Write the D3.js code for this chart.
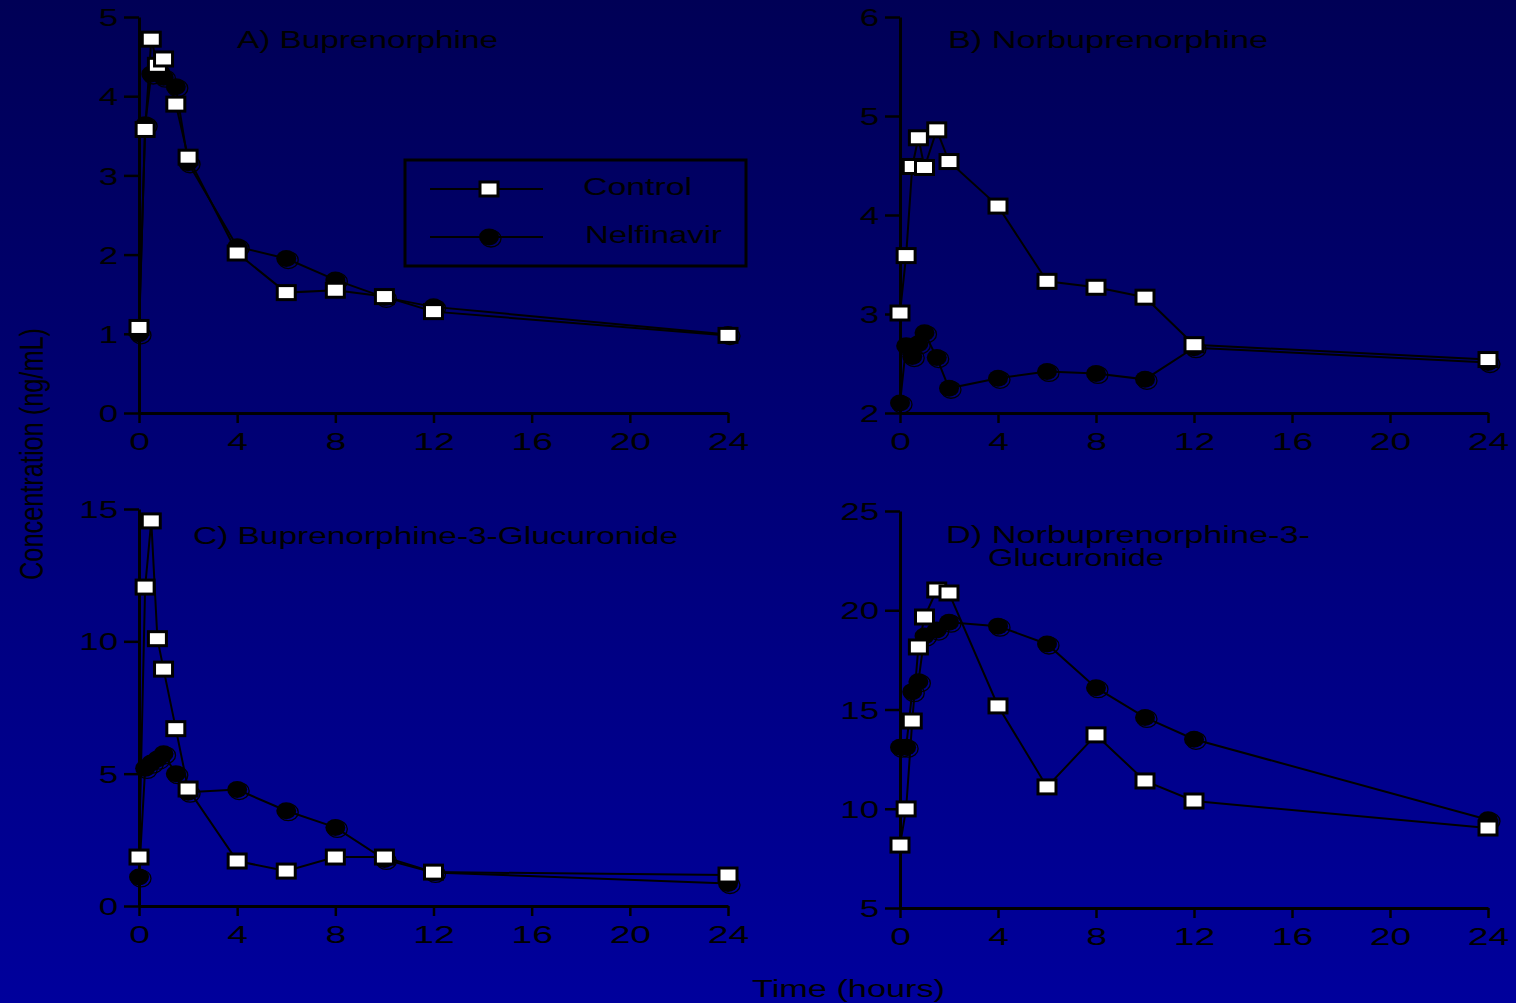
<!DOCTYPE html>
<html>
<head>
<meta charset="utf-8">
<script src="https://cdn.jsdelivr.net/npm/d3@7"></script>
<style>
  html, body { margin: 0; padding: 0; background: #000070; }
  svg { display: block; }
  text { font-family: "Liberation Sans", Arial, Helvetica, sans-serif; fill: #000; }
</style>
</head>
<body>
<svg id="chart" width="1516" height="1003"></svg>
<script>
// Sampling times (hours)
const times = [0, 0.25, 0.5, 0.75, 1, 1.5, 2, 4, 6, 8, 10, 12, 24];
const xTicks = [0, 4, 8, 12, 16, 20, 24];
const seriesNames = ["Control", "Nelfinavir"];

// Mean concentrations (ng/mL) for each analyte
const bupControl   = [1.08, 3.58, 4.72, 4.39, 4.47, 3.90, 3.23, 2.02, 1.52, 1.55, 1.47, 1.28, 0.98];
const bupNelf      = [1.00, 3.64, 4.28, 4.32, 4.24, 4.12, 3.16, 2.10, 1.95, 1.68, 1.46, 1.34, 0.99];
const norControl   = [3.01, 3.59, 4.49, 4.78, 4.48, 4.86, 4.54, 4.09, 3.33, 3.27, 3.17, 2.69, 2.54];
const norNelf      = [2.10, 2.68, 2.57, 2.70, 2.81, 2.56, 2.25, 2.35, 2.42, 2.40, 2.34, 2.66, 2.51];
const b3gControl   = [1.85, 12.05, 14.55, 10.10, 8.95, 6.70, 4.42, 1.70, 1.32, 1.85, 1.85, 1.28, 1.17];
const b3gNelf      = [1.10, 5.20, 5.40, 5.55, 5.75, 5.00, 4.30, 4.40, 3.60, 2.97, 1.76, 1.27, 0.85];
const n3gControl   = [8.17, 9.99, 14.42, 18.15, 19.66, 21.02, 20.87, 15.18, 11.10, 13.72, 11.40, 10.39, 9.03];
const n3gNelf      = [13.10, 13.10, 15.90, 16.40, 18.70, 19.00, 19.40, 19.20, 18.30, 16.10, 14.60, 13.50, 9.45];

// Panel titles and y tick values
const titlesA = ["A) Buprenorphine"];
const titlesB = ["B) Norbuprenorphine"];
const titlesC = ["C) Buprenorphine-3-Glucuronide"];
const titlesD = ["D) Norbuprenorphine-3-", "Glucuronide"];
const yTicksA = [0, 1, 2, 3, 4, 5];
const yTicksB = [2, 3, 4, 5, 6];
const yTicksC = [0, 5, 10, 15];
const yTicksD = [5, 10, 15, 20, 25];

const svg = d3.select("#chart");

// Background gradient
const defs = svg.append("defs");
const grad = defs.append("linearGradient").attr("id", "bg")
  .attr("x1", 0).attr("y1", 0).attr("x2", 0).attr("y2", 1);
grad.append("stop").attr("offset", "0%").attr("stop-color", "#000056");
grad.append("stop").attr("offset", "100%").attr("stop-color", "#00009c");
svg.append("rect").attr("width", 1516).attr("height", 1003).attr("fill", "url(#bg)");

// Stretch text horizontally by a factor
function stretch(sel, k) {
  sel.each(function () {
    const w = this.getComputedTextLength();
    d3.select(this).attr("textLength", w * k).attr("lengthAdjust", "spacingAndGlyphs");
  });
}
// Wide text set to a fixed run length
function wideText(parent, x, y, size, len, str) {
  return parent.append("text").attr("x", x).attr("y", y).attr("font-size", size)
    .attr("textLength", len).attr("lengthAdjust", "spacingAndGlyphs").text(str);
}

const panels = [
  { ctrl: bupControl, nelf: bupNelf, yDom: [0, 5],  yTicks: yTicksA, xr: [139, 728], yr: [413, 17],
    titles: titlesA, tx: [237], ty: [48], tw: [261] },
  { ctrl: norControl, nelf: norNelf, yDom: [2, 6],  yTicks: yTicksB, xr: [900, 1488], yr: [413, 17],
    titles: titlesB, tx: [948], ty: [48], tw: [320] },
  { ctrl: b3gControl, nelf: b3gNelf, yDom: [0, 15], yTicks: yTicksC, xr: [139, 728], yr: [906, 509],
    titles: titlesC, tx: [193], ty: [544], tw: [485] },
  { ctrl: n3gControl, nelf: n3gNelf, yDom: [5, 25], yTicks: yTicksD, xr: [900, 1488], yr: [908, 511],
    titles: titlesD, tx: [946, 988], ty: [543, 566], tw: [364, 176] }
];

function drawSquare(g, cx, cy) {
  g.append("rect")
    .attr("x", cx - 9).attr("y", cy - 7)
    .attr("width", 18).attr("height", 14)
    .attr("fill", "#fff").attr("stroke", "#000").attr("stroke-width", 3);
}
function drawDot(g, cx, cy) {
  g.append("ellipse").attr("cx", cx).attr("cy", cy).attr("rx", 10).attr("ry", 8.5)
    .attr("fill", "#000");
  g.append("ellipse").attr("cx", cx + 2).attr("cy", cy + 1.5).attr("rx", 10).attr("ry", 8.5)
    .attr("fill", "none").attr("stroke", "#000").attr("stroke-width", 1.3);
}

panels.forEach(p => {
  const x = d3.scaleLinear().domain([0, 24]).range(p.xr);
  const y = d3.scaleLinear().domain(p.yDom).range(p.yr);
  const g = svg.append("g");

  // y axis
  const ya = g.append("g").attr("transform", `translate(${p.xr[0]},0)`)
    .call(d3.axisLeft(y).tickValues(p.yTicks).tickSize(15).tickSizeOuter(0).tickPadding(6)
      .tickFormat(d3.format("d")));
  ya.select(".domain").attr("stroke", "#000").attr("stroke-width", 3);
  ya.selectAll(".tick line").attr("stroke", "#000").attr("stroke-width", 2.5);
  ya.selectAll(".tick text").attr("font-size", 24).attr("fill", "#000")
    .attr("font-family", "Liberation Sans, Arial, sans-serif").attr("dy", "0.36em");
  stretch(ya.selectAll(".tick text"), 1.45);

  // x axis
  const xa = g.append("g").attr("transform", `translate(0,${p.yr[0]})`)
    .call(d3.axisBottom(x).tickValues(xTicks).tickSize(10).tickSizeOuter(0).tickPadding(10));
  xa.select(".domain").attr("stroke", "#000").attr("stroke-width", 3);
  xa.selectAll(".tick line").attr("stroke", "#000").attr("stroke-width", 2.5);
  xa.selectAll(".tick text").attr("font-size", 24).attr("fill", "#000")
    .attr("font-family", "Liberation Sans, Arial, sans-serif");
  stretch(xa.selectAll(".tick text"), 1.55);

  // titles
  p.titles.forEach((t, i) => wideText(g, p.tx[i], p.ty[i], 23, p.tw[i], t));

  const line = d3.line().x((d, i) => x(times[i])).y(d => y(d));

  // Nelfinavir series (drawn under control)
  g.append("path").datum(p.nelf).attr("d", line)
    .attr("fill", "none").attr("stroke", "#000").attr("stroke-width", 2);
  p.nelf.forEach((v, i) => drawDot(g, x(times[i]), y(v)));

  // Control series
  g.append("path").datum(p.ctrl).attr("d", line)
    .attr("fill", "none").attr("stroke", "#000").attr("stroke-width", 2);
  p.ctrl.forEach((v, i) => drawSquare(g, x(times[i]), y(v)));
});

// Legend
const lg = svg.append("g");
lg.append("rect").attr("x", 405).attr("y", 160).attr("width", 341).attr("height", 106)
  .attr("fill", "none").attr("stroke", "#000").attr("stroke-width", 3);
const legY = [189, 237];
const legTextY = [195, 243];
const legTextX = [583, 585];
const legTextW = [109, 137];
seriesNames.forEach((name, i) => {
  lg.append("line").attr("x1", 430).attr("x2", 543).attr("y1", legY[i]).attr("y2", legY[i])
    .attr("stroke", "#000").attr("stroke-width", 2);
  if (i === 0) drawSquare(lg, 489, legY[i]); else drawDot(lg, 489, legY[i]);
  wideText(lg, legTextX[i], legTextY[i], 23, legTextW[i], name);
});

// Shared axis titles
svg.append("text")
  .attr("transform", "translate(43,454) rotate(-90)")
  .attr("text-anchor", "middle")
  .attr("font-size", 34)
  .attr("textLength", 252).attr("lengthAdjust", "spacingAndGlyphs")
  .text("Concentration (ng/mL)");

wideText(svg, 752, 997, 23, 193, "Time (hours)");
</script>
</body>
</html>
